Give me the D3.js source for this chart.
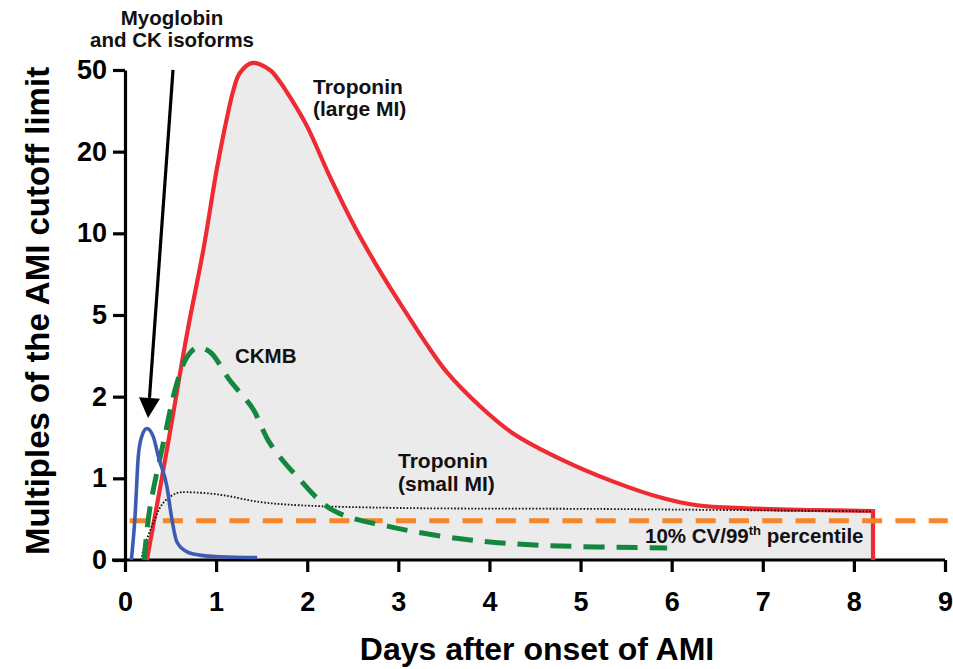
<!DOCTYPE html>
<html>
<head>
<meta charset="utf-8">
<script src="https://cdn.jsdelivr.net/npm/d3@7"></script>
<style>
  html, body { margin: 0; padding: 0; background: #fff; }
  svg { display: block; font-family: "Liberation Sans", Arial, Helvetica, sans-serif; }
</style>
</head>
<body>
<svg id="chart" width="953" height="669"></svg>
<script>
// ---------- data ----------
const xTicks = [0, 1, 2, 3, 4, 5, 6, 7, 8, 9];
const yTicks = [0, 1, 2, 5, 10, 20, 50];

const tropLargeDays   = [0.24, 0.46, 0.68, 0.86, 1.01, 1.12, 1.19, 1.26, 1.40, 1.59, 1.70, 1.81, 2.00, 2.25, 2.54, 2.84, 3.09, 3.31, 3.53, 3.90, 4.26, 4.81, 5.36, 5.91, 6.28, 6.82, 7.56, 8.20];
const tropLargeValues = [0,    1.35, 4.3,  9.0,  18,   32.6, 42.6, 48.9, 52.6, 50,   45.7, 40.1, 29.2, 16.9, 10.4, 7.3,  5.1,  3.93, 2.91, 1.88, 1.55, 1.22, 0.96, 0.755, 0.67, 0.633, 0.612, 0.60];
const tropLargeEndDay = 8.21;

const tropSmallDays   = [0.18, 0.20, 0.31, 0.42, 0.57, 0.68, 1.04, 1.48, 1.92, 3.02, 5.21, 8.19];
const tropSmallValues = [0,    0.12, 0.455, 0.70, 0.82, 0.83, 0.80, 0.71, 0.67, 0.637, 0.625, 0.595];

const ckmbDays   = [0.21, 0.27, 0.42, 0.57, 0.68, 0.79, 0.93, 1.15, 1.30, 1.41, 1.59, 1.89, 2.28, 2.94, 3.79, 4.56, 5.95];
const ckmbValues = [0,    0.61, 1.43, 2.5,  3.45, 3.8,  3.65, 2.6,  2.0,  1.84, 1.43, 1.02, 0.61, 0.40, 0.245, 0.18, 0.147];

const myoDays   = [0.07, 0.11, 0.146, 0.183, 0.24, 0.31, 0.37, 0.46, 0.51, 0.57, 0.68, 0.82, 1.04, 1.45];
const myoValues = [0,    0.53, 1.27,  1.51,  1.61, 1.51, 1.25, 0.9,  0.53, 0.22, 0.1,  0.06, 0.04, 0.03];

const cutoffDays  = [0.05, 9.03];
const cutoffValue = 0.48;

const arrowFrom = [0.527, 50];
const arrowTo   = [0.253, 1.74];

// ---------- layout ----------
const svg = d3.select("#chart");
const x0 = 125, x1 = 945, yBase = 560, yStep = 81.67;

const x = d3.scaleLinear().domain([0, 9]).range([x0, x1]);
const y = d3.scaleLinear().domain(yTicks).range(yTicks.map((d, i) => yBase - i * yStep));

const zip = (xs, ys) => xs.map((d, i) => [d, ys[i]]);
const tropLarge = zip(tropLargeDays, tropLargeValues);
const tropSmall = zip(tropSmallDays, tropSmallValues);
const ckmb = zip(ckmbDays, ckmbValues);
const myo = zip(myoDays, myoValues);

const smooth = d3.curveCatmullRom.alpha(0.5);
const line = d3.line().x(d => x(d[0])).y(d => y(d[1])).curve(smooth);
const lineMono = d3.line().x(d => x(d[0])).y(d => y(d[1])).curve(d3.curveMonotoneX);
const area = d3.area().x(d => x(d[0])).y0(y(0)).y1(d => y(d[1])).curve(smooth);

// gray fill under large-MI troponin
svg.append("path").datum(tropLarge).attr("d", area).attr("fill", "#ebebeb");
svg.append("rect")
  .attr("x", x(tropLargeDays[tropLargeDays.length - 1]))
  .attr("y", y(tropLargeValues[tropLargeValues.length - 1]))
  .attr("width", x(tropLargeEndDay) - x(tropLargeDays[tropLargeDays.length - 1]))
  .attr("height", y(0) - y(tropLargeValues[tropLargeValues.length - 1]))
  .attr("fill", "#ebebeb");

// axes
const fontFam = '"Liberation Sans", Arial, Helvetica, sans-serif';
const xAxis = d3.axisBottom(x).tickValues(xTicks).tickSize(12).tickSizeOuter(0).tickPadding(20).tickFormat(d3.format("d"));
const yAxis = d3.axisLeft(y).tickValues(yTicks).tickSize(12).tickSizeOuter(0).tickPadding(6).tickFormat(d3.format("d"));

const gx = svg.append("g").attr("transform", `translate(0,${yBase})`).call(xAxis);
const gy = svg.append("g").attr("transform", `translate(${x0},0)`).call(yAxis);
[gx, gy].forEach(g => {
  g.select(".domain").attr("stroke", "#000").attr("stroke-width", 3.2);
  g.selectAll(".tick line").attr("stroke", "#000").attr("stroke-width", 3.2);
  g.selectAll(".tick text").attr("fill", "#000").attr("font-family", fontFam)
    .attr("font-size", 27).attr("font-weight", "bold");
});
gx.select(".domain").attr("d", `M${x0 - 13},0H${x1}`);

// curves
svg.append("path").datum(tropLarge).attr("d", line)
  .attr("fill", "none").attr("stroke", "#ee2a32").attr("stroke-width", 4.2).attr("stroke-linejoin", "round");
svg.append("path")
  .datum([[tropLargeDays[tropLargeDays.length - 1], tropLargeValues[tropLargeValues.length - 1]], [tropLargeEndDay, tropLargeValues[tropLargeValues.length - 1]], [tropLargeEndDay, 0]])
  .attr("d", d3.line().x(d => x(d[0])).y(d => y(d[1])))
  .attr("fill", "none").attr("stroke", "#ee2a32").attr("stroke-width", 4.2);

svg.append("path").datum(tropSmall).attr("d", line)
  .attr("fill", "none").attr("stroke", "#111").attr("stroke-width", 1.8).attr("stroke-dasharray", "1.6,1.8");

svg.append("path").datum(cutoffDays.map(d => [d, cutoffValue]))
  .attr("d", d3.line().x(d => x(d[0])).y(d => y(d[1])))
  .attr("fill", "none").attr("stroke", "#f5862a").attr("stroke-width", 5).attr("stroke-dasharray", "20,13.3");

svg.append("path").datum(ckmb).attr("d", line)
  .attr("fill", "none").attr("stroke", "#14873f").attr("stroke-width", 5).attr("stroke-dasharray", "21,12");

svg.append("path").datum(myo).attr("d", lineMono)
  .attr("fill", "none").attr("stroke", "#3d5bb3").attr("stroke-width", 3.6).attr("stroke-linejoin", "round");

// arrow
const ax0 = x(arrowFrom[0]), ay0 = y(arrowFrom[1]), ax1 = x(arrowTo[0]), ay1 = y(arrowTo[1]);
const ang = Math.atan2(ay1 - ay0, ax1 - ax0);
const headLen = 20, headHalf = 10.5;
const bx = ax1 - headLen * Math.cos(ang), by = ay1 - headLen * Math.sin(ang);
svg.append("line").attr("x1", ax0).attr("y1", ay0).attr("x2", bx).attr("y2", by)
  .attr("stroke", "#000").attr("stroke-width", 3.2);
svg.append("path")
  .attr("d", `M${ax1},${ay1}L${bx + headHalf * Math.sin(ang)},${by - headHalf * Math.cos(ang)}L${bx - headHalf * Math.sin(ang)},${by + headHalf * Math.cos(ang)}Z`)
  .attr("fill", "#000");

// labels
function label(lines, px, py, anchor, size, lh) {
  const t = svg.append("text").attr("x", px).attr("y", py).attr("text-anchor", anchor)
    .attr("font-family", fontFam).attr("font-size", size).attr("font-weight", "bold").attr("fill", "#111");
  lines.forEach((s, i) => t.append("tspan").attr("x", px).attr("dy", i === 0 ? 0 : lh).text(s));
  return t;
}
label(["Myoglobin", "and CK isoforms"], 172, 25, "middle", 20.5, 22);
label(["Troponin", "(large MI)"], 313, 94, "start", 21, 22);
label(["CKMB"], 235, 363, "start", 20.5, 22);
label(["Troponin", "(small MI)"], 398, 468, "start", 21, 23);

const cv = svg.append("text").attr("x", 645).attr("y", 543)
  .attr("font-family", fontFam).attr("font-size", 20.5).attr("font-weight", "bold").attr("fill", "#111");
cv.append("tspan").text("10% CV/99");
cv.append("tspan").attr("font-size", 13).attr("dy", -8).text("th");
cv.append("tspan").attr("dy", 8).text(" percentile");

// axis titles
svg.append("text").attr("x", 537).attr("y", 660).attr("text-anchor", "middle")
  .attr("font-family", fontFam).attr("font-size", 32).attr("font-weight", "bold").attr("fill", "#000")
  .text("Days after onset of AMI");
svg.append("text").attr("transform", "translate(49,311) rotate(-90)").attr("text-anchor", "middle")
  .attr("font-family", fontFam).attr("font-size", 33).attr("font-weight", "bold").attr("fill", "#000")
  .text("Multiples of the AMI cutoff limit");
</script>
</body>
</html>
